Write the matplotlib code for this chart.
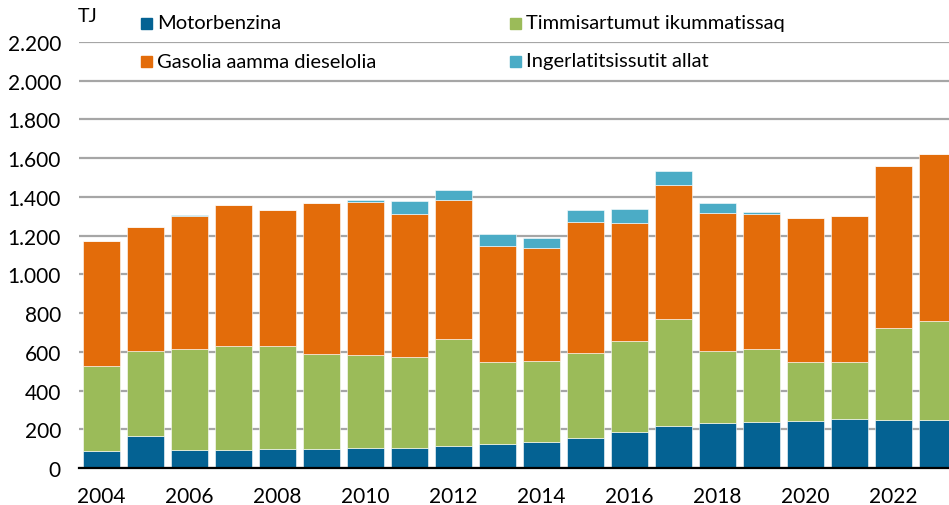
import numpy as np
import matplotlib
matplotlib.use("Agg")
import matplotlib.pyplot as plt
from matplotlib.patches import Rectangle
from matplotlib.ticker import FuncFormatter

plt.rcParams['font.family'] = ['Lato', 'DejaVu Sans']

years = np.arange(2004, 2024)
motorbenzina = [90, 163, 95, 95, 98, 98, 103, 105, 115, 126, 134, 153, 188, 219, 234, 239, 243, 251, 250, 250]
timmisartumut = [438, 441, 518, 533, 530, 491, 481, 470, 551, 421, 420, 443, 466, 551, 370, 376, 304, 297, 473, 509]
gasolia = [646, 642, 690, 732, 704, 780, 791, 735, 718, 599, 582, 676, 610, 693, 711, 697, 742, 752, 835, 861]
ingerlatitsissutit = [0, 0, 3, 0, 0, 0, 9, 71, 52, 61, 52, 60, 72, 69, 54, 12, 0, 0, 0, 0]

series = [
    ("Motorbenzina", motorbenzina, "#046293"),
    ("Timmisartumut ikummatissaq", timmisartumut, "#9bbb59"),
    ("Gasolia aamma dieselolia", gasolia, "#e36c0a"),
    ("Ingerlatitsissutit allat", ingerlatitsissutit, "#4bacc6"),
]

fig = plt.figure(figsize=(9.49, 5.06), dpi=100)
ax = fig.add_axes([79/949, 37/506, 1 - 79/949, 426/506])

bottom = np.zeros(len(years))
for name, vals, col in series:
    vals = np.array(vals, dtype=float)
    ax.bar(years, vals, bottom=bottom, width=0.84, color=col,
           edgecolor='white', linewidth=0.4, zorder=3)
    bottom += vals

ax.set_ylim(0, 2200)
ax.set_xlim(2003.5, 2023.26)
ax.set_yticks(np.arange(0, 2201, 200))
ax.yaxis.set_major_formatter(FuncFormatter(lambda v, p: f"{int(v):,}".replace(",", ".")))
ax.set_xticks(years[::2])
ax.tick_params(axis='both', length=0, labelsize=15, colors='black')
ax.tick_params(axis='y', pad=13)
ax.tick_params(axis='x', pad=13)
ax.grid(axis='y', color='#a6a6a6', linewidth=1.6, zorder=0)
for s in ['top', 'right', 'left']:
    ax.spines[s].set_visible(False)
ax.spines['bottom'].set_color('black')
ax.spines['bottom'].set_linewidth(1.6)
ax.spines['bottom'].set_zorder(4)

fig.text(78/949, 1 - 17/506, "TJ", fontsize=14, va='center', ha='left')

# legend, placed by hand in two rows
leg_pos = [(141, 24), (510, 24), (141, 62), (510, 62)]
for (px, py), (name, _, col) in zip(leg_pos, series):
    fig.patches.append(Rectangle((px/949, 1 - (py + 6)/506), 11/949, 11/506,
                                 transform=fig.transFigure, color=col))
    fig.text((px + 16)/949, 1 - py/506, name, fontsize=14.5, va='center', ha='left')

fig.savefig("out.png", dpi=100)
